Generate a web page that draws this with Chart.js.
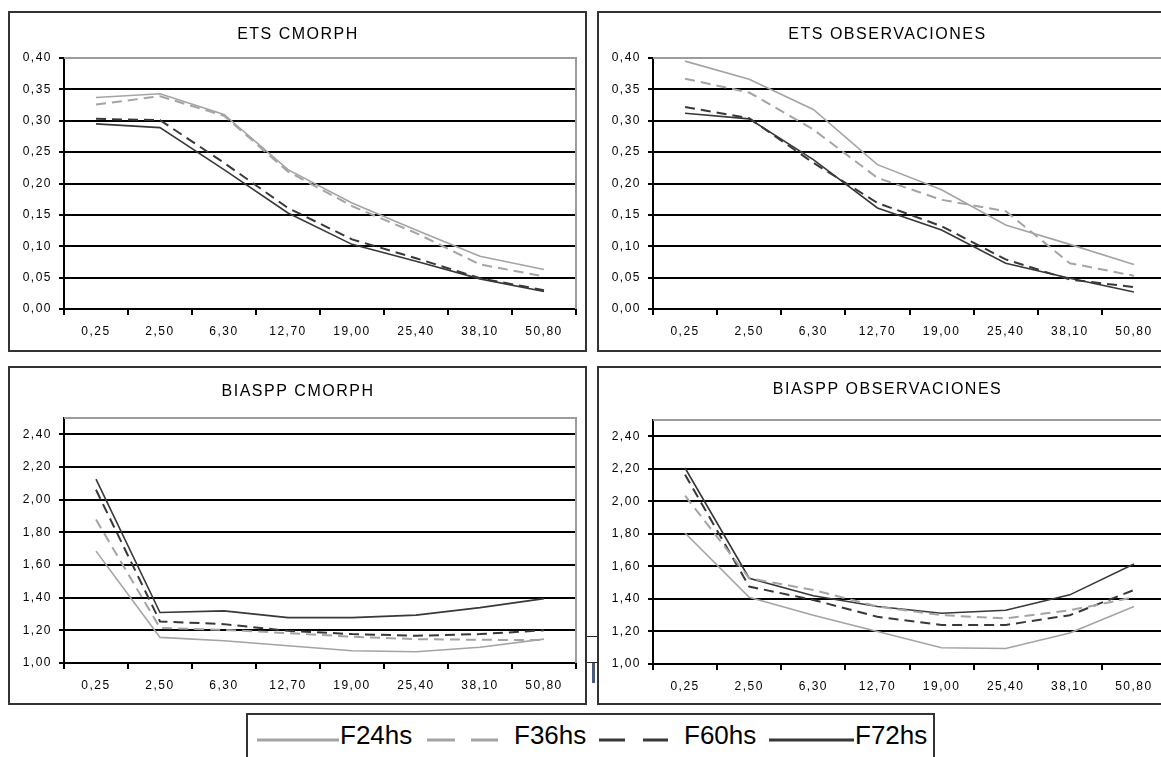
<!DOCTYPE html>
<html>
<head>
<meta charset="utf-8">
<script src="https://cdn.jsdelivr.net/npm/chart.js@4.4.1/dist/chart.umd.min.js"></script>
<style>
  html, body { margin: 0; padding: 0; background: #fff; }
  body { position: relative; width: 1161px; height: 757px; overflow: hidden; font-family: 'Liberation Sans', Arial, sans-serif; }
  .panel { position: absolute; border: 2px solid #333; background: #fff; }
  .panel canvas { display: block; }
  .bit { position: absolute; background: #222; }
  .leg-text { position: absolute; font-size: 26px; line-height: 30px; color: #000; white-space: nowrap; }
  .leg-line { position: absolute; }
</style>
</head>
<body>

<div class="panel" style="left:8px; top:11px; width:575px; height:337px;"><canvas id="etsCmorph" width="575" height="337"></canvas></div>
<div class="panel" style="left:597px; top:11px; width:575px; height:337px;"><canvas id="etsObs" width="575" height="337"></canvas></div>
<div class="panel" style="left:8px; top:366px; width:575px; height:335px;"><canvas id="biasCmorph" width="575" height="335"></canvas></div>
<div class="panel" style="left:597px; top:366px; width:575px; height:335px;"><canvas id="biasObs" width="575" height="335"></canvas></div>

<!-- leftovers of an overlapped chart between the bottom panels -->
<div class="bit" style="left:587px; top:636px; width:10px; height:1px;"></div>
<div class="bit" style="left:587px; top:662px; width:10px; height:1px;"></div>
<div class="bit" style="left:592px; top:663px; width:3px; height:20px; background:#4a5a7a;"></div>

<div class="panel" id="legendBox" style="left:246px; top:713px; width:685px; height:60px;"></div>

<script>
// ---- data ----
const categories = ['0,25', '2,50', '6,30', '12,70', '19,00', '25,40', '38,10', '50,80'];
const seriesNames = ['F24hs', 'F36hs', 'F60hs', 'F72hs'];

// ETS CMORPH
const etsCmorphF24 = [0.337, 0.343, 0.310, 0.222, 0.169, 0.126, 0.084, 0.063];
const etsCmorphF36 = [0.326, 0.339, 0.308, 0.219, 0.164, 0.121, 0.071, 0.052];
const etsCmorphF60 = [0.303, 0.301, 0.233, 0.161, 0.111, 0.081, 0.049, 0.030];
const etsCmorphF72 = [0.295, 0.289, 0.222, 0.153, 0.103, 0.076, 0.048, 0.028];

// ETS OBSERVACIONES
const etsObsF24 = [0.395, 0.366, 0.318, 0.230, 0.190, 0.134, 0.103, 0.071];
const etsObsF36 = [0.367, 0.345, 0.286, 0.209, 0.174, 0.156, 0.073, 0.053];
const etsObsF60 = [0.322, 0.304, 0.233, 0.169, 0.132, 0.079, 0.047, 0.035];
const etsObsF72 = [0.312, 0.303, 0.238, 0.161, 0.126, 0.073, 0.049, 0.027];

// BIASPP CMORPH
const biasCmorphF24 = [1.685, 1.157, 1.136, 1.106, 1.075, 1.069, 1.096, 1.146];
const biasCmorphF36 = [1.878, 1.215, 1.203, 1.183, 1.161, 1.146, 1.142, 1.140];
const biasCmorphF60 = [2.061, 1.254, 1.238, 1.197, 1.177, 1.167, 1.177, 1.200];
const biasCmorphF72 = [2.126, 1.309, 1.319, 1.278, 1.278, 1.293, 1.339, 1.394];

// BIASPP OBSERVACIONES
const biasObsF24 = [1.805, 1.410, 1.300, 1.200, 1.100, 1.095, 1.190, 1.353];
const biasObsF36 = [2.035, 1.527, 1.455, 1.353, 1.300, 1.280, 1.330, 1.410];
const biasObsF60 = [2.164, 1.476, 1.394, 1.290, 1.240, 1.240, 1.300, 1.455];
const biasObsF72 = [2.205, 1.527, 1.420, 1.353, 1.312, 1.330, 1.425, 1.615];

const etsTicks = { min: 0, max: 0.40, step: 0.05 };
const biasTicks = { min: 1.00, max: 2.50, step: 0.20 };

// ---- styles ----
const LIGHT = '#a4a4a4';
const DARK = '#383838';
const seriesStyle = [
  { color: LIGHT, dash: [], width: 1.6 },
  { color: LIGHT, dash: [10, 6], width: 2 },
  { color: DARK, dash: [10, 6], width: 2 },
  { color: DARK, dash: [], width: 1.6 }
];
const FONT = "'Liberation Sans', Arial, sans-serif";

// canvas text in the original is loosely spaced
const spacing = {
  id: 'spacing',
  beforeUpdate(chart) { chart.ctx.letterSpacing = '1.5px'; },
  beforeDraw(chart) { chart.ctx.letterSpacing = '1.5px'; }
};

// gray top/right edge of the plot area
const plotFrame = {
  id: 'plotFrame',
  beforeDatasetsDraw(chart) {
    const { ctx, chartArea: a } = chart;
    ctx.save();
    ctx.strokeStyle = '#9c9c9c';
    ctx.lineWidth = 2;
    ctx.beginPath();
    ctx.moveTo(a.left, a.top);
    ctx.lineTo(a.right, a.top);
    ctx.lineTo(a.right, a.bottom);
    ctx.stroke();
    ctx.restore();
  }
};

function fmt(v) { return v.toFixed(2).replace('.', ','); }

function makeChart(id, title, values, scale, lay) {
  const datasets = values.map(function (data, i) {
    const s = seriesStyle[i];
    return {
      label: seriesNames[i],
      data: data,
      borderColor: s.color,
      backgroundColor: s.color,
      borderDash: s.dash,
      borderWidth: s.width,
      pointRadius: 0,
      tension: 0,
      fill: false
    };
  });
  new Chart(document.getElementById(id).getContext('2d'), {
    type: 'line',
    data: { labels: categories, datasets: datasets },
    options: {
      responsive: false,
      animation: false,
      layout: { padding: { left: 10, right: lay.right, top: 0, bottom: lay.bottom } },
      plugins: {
        legend: { display: false },
        tooltip: { enabled: false },
        title: {
          display: true,
          text: title,
          color: '#000',
          font: { family: FONT, size: 16, weight: 'normal', lineHeight: 1.2 },
          padding: { top: lay.titleTop, bottom: lay.titleBottom }
        }
      },
      scales: {
        x: {
          offset: true,
          grid: { offset: true, drawOnChartArea: false, color: '#000', lineWidth: 2, tickLength: 6 },
          border: { color: '#000', width: 2 },
          ticks: { color: '#000', font: { family: FONT, size: 12 }, padding: 9, maxRotation: 0, autoSkip: false },
          afterFit(s) { s.height = 30; }
        },
        y: {
          min: scale.min,
          max: scale.max,
          ticks: {
            stepSize: scale.step,
            includeBounds: false,
            color: '#000',
            font: { family: FONT, size: 12 },
            padding: 7,
            callback: function (v) { return fmt(v); }
          },
          grid: {
            color: function (c) { return Math.abs(c.tick.value - scale.max) < 1e-6 ? 'rgba(0,0,0,0)' : '#000'; },
            tickColor: '#000',
            lineWidth: 2,
            tickLength: 5
          },
          border: { color: '#000', width: 2 },
          afterFit(s) { s.width = 44; }
        }
      }
    },
    plugins: [spacing, plotFrame]
  });
}

makeChart('etsCmorph', 'ETS CMORPH',
  [etsCmorphF24, etsCmorphF36, etsCmorphF60, etsCmorphF72], etsTicks,
  { right: 9, bottom: 11, titleTop: 12.4, titleBottom: 13.4 });
makeChart('etsObs', 'ETS OBSERVACIONES',
  [etsObsF24, etsObsF36, etsObsF60, etsObsF72], etsTicks,
  { right: 8, bottom: 11, titleTop: 12.4, titleBottom: 13.4 });
makeChart('biasCmorph', 'BIASPP CMORPH',
  [biasCmorphF24, biasCmorphF36, biasCmorphF60, biasCmorphF72], biasTicks,
  { right: 9, bottom: 10, titleTop: 14.4, titleBottom: 16.4 });
makeChart('biasObs', 'BIASPP OBSERVACIONES',
  [biasObsF24, biasObsF36, biasObsF60, biasObsF72], biasTicks,
  { right: 8, bottom: 9, titleTop: 12.4, titleBottom: 20.4 });

// ---- shared legend ----
const legendSamples = [
  { left: 257, width: 82, dash: '' },
  { left: 427, width: 71, dash: '28 16' },
  { left: 599, width: 69, dash: '26 18' },
  { left: 769, width: 85, dash: '' }
];
const legendTextLeft = [340, 514, 684, 855];
seriesNames.forEach(function (name, i) {
  const s = legendSamples[i];
  const svgNS = 'http://www.w3.org/2000/svg';
  const svg = document.createElementNS(svgNS, 'svg');
  svg.setAttribute('class', 'leg-line');
  svg.setAttribute('width', s.width);
  svg.setAttribute('height', 6);
  svg.style.left = s.left + 'px';
  svg.style.top = '737px';
  const line = document.createElementNS(svgNS, 'line');
  line.setAttribute('x1', 0); line.setAttribute('y1', 3);
  line.setAttribute('x2', s.width); line.setAttribute('y2', 3);
  line.setAttribute('stroke', seriesStyle[i].color);
  line.setAttribute('stroke-width', 3);
  if (s.dash) line.setAttribute('stroke-dasharray', s.dash);
  svg.appendChild(line);
  document.body.appendChild(svg);

  const t = document.createElement('div');
  t.className = 'leg-text';
  t.textContent = name;
  t.style.left = legendTextLeft[i] + 'px';
  t.style.top = '720px';
  document.body.appendChild(t);
});
</script>
</body>
</html>
